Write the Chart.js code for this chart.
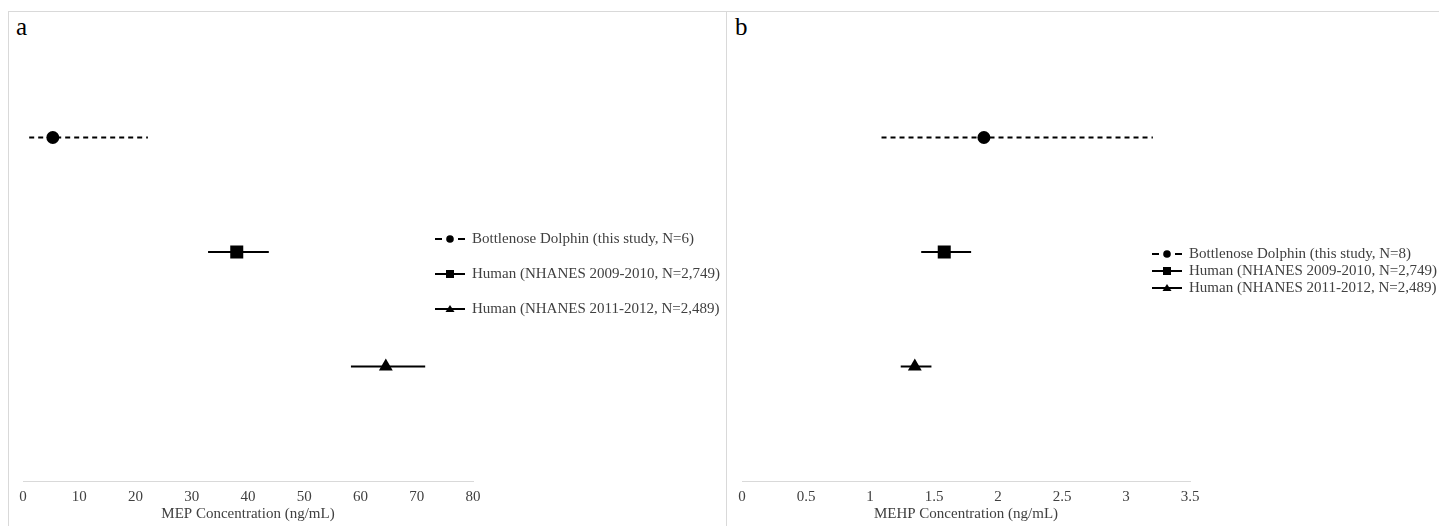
<!DOCTYPE html>
<html>
<head>
<meta charset="utf-8">
<script src="https://cdn.jsdelivr.net/npm/chart.js@4.4.0/dist/chart.umd.min.js"></script>
<style>
  body { margin: 0; background: #fff; font-family: "Liberation Serif", "Times New Roman", serif; }
  #wrap { position: relative; width: 1439px; height: 526px; overflow: hidden; }
  .panel { position: absolute; top: 11px; height: 520px; border-top: 1px solid #d9d9d9; border-left: 1px solid #d9d9d9; }
  .letter { position: absolute; font-size: 25px; color: #000; }
  canvas { position: absolute; top: 0; }
  .legend { position: absolute; color: #404040; font-size: 15px; }
  .legend .item { display: flex; align-items: center; white-space: nowrap; }
  .legend svg { margin-right: 7px; flex: none; }
</style>
</head>
<body>
<div id="wrap">
  <div class="panel" style="left:8px;width:718px"></div>
  <div class="panel" style="left:726px;width:720px"></div>
  <div class="letter" style="left:16px;top:13px">a</div>
  <div class="letter" style="left:735px;top:13px">b</div>
  <canvas id="chartA" width="727" height="526" style="left:0"></canvas>
  <canvas id="chartB" width="712" height="526" style="left:727px"></canvas>
  <div class="legend" id="legA" style="left:435px;top:221px"></div>
  <div class="legend" id="legB" style="left:1152px;top:245px"></div>
</div>
<script>
// rows from top to bottom
const rowPos = [3, 2, 1];
const markers = ['circle', 'rect', 'triangle'];
const dashed = [true, false, false];

const legendA = ['Bottlenose Dolphin (this study, N=6)', 'Human (NHANES 2009-2010, N=2,749)', 'Human (NHANES 2011-2012, N=2,489)'];
const legendB = ['Bottlenose Dolphin (this study, N=8)', 'Human (NHANES 2009-2010, N=2,749)', 'Human (NHANES 2011-2012, N=2,489)'];

// MEP (panel a)
const mepMean = [5.3, 38.0, 64.5];
const mepLow  = [1.1, 32.9, 58.3];
const mepHigh = [22.2, 43.7, 71.5];

// MEHP (panel b)
const mehpMean = [1.89, 1.58, 1.35];
const mehpLow  = [1.09, 1.40, 1.24];
const mehpHigh = [3.21, 1.79, 1.48];

const serif = "'Liberation Serif', 'Times New Roman', serif";
const radii = [6.5, 9.2, 8];

function buildSets(mean, low, high) {
  let sets = [];
  for (let i = 0; i < mean.length; i++) {
    sets.push({
      type: 'line',
      data: [{x: low[i], y: rowPos[i]}, {x: high[i], y: rowPos[i]}],
      borderColor: '#000',
      borderWidth: 2,
      borderDash: dashed[i] ? [5, 4] : [],
      pointRadius: 0,
      order: 2
    });
    sets.push({
      type: 'scatter',
      data: [{x: mean[i], y: rowPos[i]}],
      pointStyle: markers[i],
      pointRadius: radii[i],
      backgroundColor: '#000',
      borderColor: '#000',
      borderWidth: 0,
      order: 1
    });
  }
  return sets;
}

function makeChart(id, mean, low, high, xmax, step, title, padL, padR) {
  return new Chart(document.getElementById(id), {
    type: 'scatter',
    data: { datasets: buildSets(mean, low, high) },
    options: {
      responsive: false,
      animation: false,
      layout: { padding: { left: padL, right: padR, top: 23, bottom: 0 } },
      plugins: { legend: { display: false }, tooltip: { enabled: false } },
      scales: {
        x: {
          type: 'linear', min: 0, max: xmax,
          ticks: {
            stepSize: step, color: '#404040', font: { family: serif, size: 15 }, padding: 7, maxRotation: 0,
            callback: v => String(Math.round(v * 10) / 10)
          },
          grid: { display: false, drawTicks: false },
          border: { color: '#d9d9d9', width: 1 },
          title: { display: true, text: title, color: '#404040', font: { family: serif, size: 15 }, padding: { top: 0, bottom: 3 } },
          afterFit: function(s) { s.height = 45; }
        },
        y: { display: false, min: 0, max: 4 }
      }
    }
  });
}

makeChart('chartA', mepMean, mepLow, mepHigh, 80, 10, 'MEP Concentration (ng/mL)', 23, 254);
makeChart('chartB', mehpMean, mehpLow, mehpHigh, 3.5, 0.5, 'MEHP Concentration (ng/mL)', 15, 249);

function icon(i) {
  let line = dashed[i]
    ? '<line x1="0" y1="6" x2="7" y2="6" stroke="#000" stroke-width="2"/><line x1="23" y1="6" x2="30" y2="6" stroke="#000" stroke-width="2"/>'
    : '<line x1="0" y1="6" x2="30" y2="6" stroke="#000" stroke-width="2"/>';
  let mark = '';
  if (markers[i] === 'circle') mark = '<circle cx="15" cy="6" r="3.8" fill="#000"/>';
  if (markers[i] === 'rect') mark = '<rect x="11" y="2" width="8" height="8" fill="#000"/>';
  if (markers[i] === 'triangle') mark = '<polygon points="15,2 19.5,9 10.5,9" fill="#000"/>';
  return '<svg width="30" height="12">' + line + mark + '</svg>';
}

function fillLegend(id, labels, gap) {
  let el = document.getElementById(id);
  labels.forEach((t, i) => {
    let d = document.createElement('div');
    d.className = 'item';
    d.style.height = gap + 'px';
    d.innerHTML = icon(i) + '<span>' + t + '</span>';
    el.appendChild(d);
  });
}
fillLegend('legA', legendA, 35);
fillLegend('legB', legendB, 17);
</script>
</body>
</html>
